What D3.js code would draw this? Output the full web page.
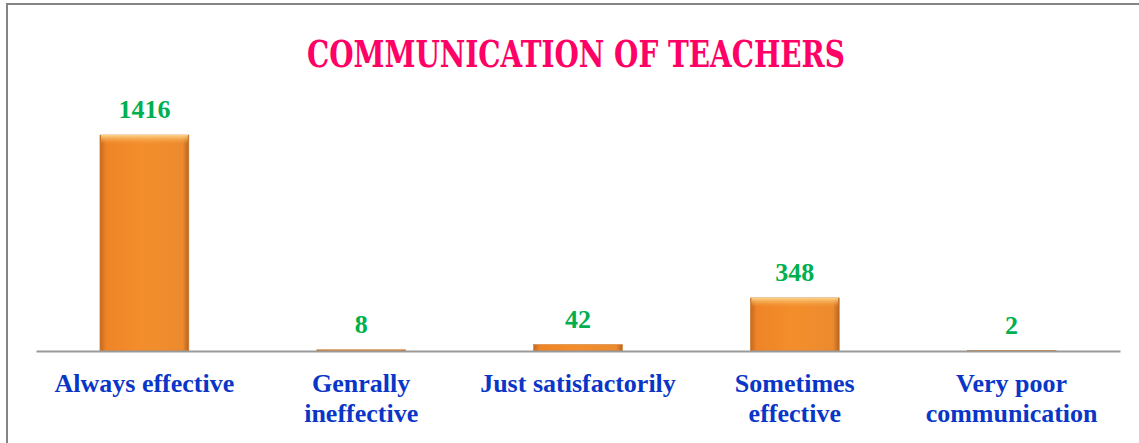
<!DOCTYPE html>
<html>
<head>
<meta charset="utf-8">
<script src="https://cdn.jsdelivr.net/npm/d3@7"></script>
<style>
  body { margin: 0; background: #fff; }
  svg { display: block; }
</style>
</head>
<body>
<div id="chart"></div>
<script>
const chartWidth = 1139;
const chartHeight = 443;

const margin = { top: 135, bottom: 91, left: 36, right: 19 };

// chart data
const categories = ["Always effective", "Genrally ineffective", "Just satisfactorily", "Sometimes effective", "Very poor communication"];
const categoryLines = [["Always effective"], ["Genrally", "ineffective"], ["Just satisfactorily"], ["Sometimes", "effective"], ["Very poor", "communication"]];
const counts = [1416, 8, 42, 348, 2];
const title = "COMMUNICATION OF TEACHERS";

const svg = d3.select("#chart").append("svg")
  .attr("width", chartWidth)
  .attr("height", chartHeight);

// bar shading
const defs = svg.append("defs");
const grad = defs.append("linearGradient").attr("id", "barGrad")
  .attr("x1", "0").attr("x2", "1").attr("y1", "0").attr("y2", "0");
grad.append("stop").attr("offset", "0").attr("stop-color", "#c4681f");
grad.append("stop").attr("offset", "0.07").attr("stop-color", "#ee8426");
grad.append("stop").attr("offset", "0.5").attr("stop-color", "#f48e2c");
grad.append("stop").attr("offset", "0.93").attr("stop-color", "#ec8a2e");
grad.append("stop").attr("offset", "1").attr("stop-color", "#b86320");

const topGrad = defs.append("linearGradient").attr("id", "topGrad")
  .attr("x1", "0").attr("x2", "0").attr("y1", "0").attr("y2", "1");
topGrad.append("stop").attr("offset", "0").attr("stop-color", "#fcd48a").attr("stop-opacity", 1);
topGrad.append("stop").attr("offset", "1").attr("stop-color", "#f7a444").attr("stop-opacity", 0);

// frame (left and top edges)
svg.append("path")
  .attr("d", "M7,443 L7,4 L1139,4")
  .attr("fill", "none")
  .attr("stroke", "#858585")
  .attr("stroke-width", 2);

const x = d3.scaleBand()
  .domain(categories)
  .range([margin.left, chartWidth - margin.right])
  .paddingInner(0.59)
  .paddingOuter(0.295);

const y = d3.scaleLinear()
  .domain([0, d3.max(counts)])
  .range([chartHeight - margin.bottom - 1, margin.top]);

const data = categories.map((c, i) => ({ cat: c, value: counts[i], lines: categoryLines[i] }));

// bars
const bars = svg.selectAll(".bar").data(data).enter().append("g").attr("class", "bar");

bars.append("rect")
  .attr("x", d => x(d.cat))
  .attr("y", d => y(d.value))
  .attr("width", x.bandwidth())
  .attr("height", d => y(0) - y(d.value))
  .attr("fill", "url(#barGrad)")
  .attr("stroke", "#d07a2c")
  .attr("stroke-width", 0.6);

bars.filter(d => y(0) - y(d.value) > 8).append("rect")
  .attr("x", d => x(d.cat) + 1)
  .attr("y", d => y(d.value))
  .attr("width", x.bandwidth() - 2)
  .attr("height", 9)
  .attr("fill", "url(#topGrad)");

// baseline
const xAxis = d3.axisBottom(x).tickSize(0).tickFormat("");
svg.append("g")
  .attr("transform", "translate(0," + y(0) + ")")
  .call(xAxis)
  .call(g => g.select(".domain").attr("stroke", "#9a9a9a").attr("stroke-width", 2));

// value labels
svg.selectAll(".val").data(data).enter().append("text")
  .attr("class", "val")
  .attr("x", d => x(d.cat) + x.bandwidth() / 2)
  .attr("y", d => y(d.value) - 17)
  .attr("text-anchor", "middle")
  .attr("font-family", "'Liberation Serif', 'Times New Roman', serif")
  .attr("font-weight", "bold")
  .attr("font-size", 26)
  .attr("fill", "#00b050")
  .text(d => d.value);

// category labels
const catLabels = svg.selectAll(".cat").data(data).enter().append("text")
  .attr("class", "cat")
  .attr("text-anchor", "middle")
  .attr("font-family", "'Liberation Serif', 'Times New Roman', serif")
  .attr("font-weight", "bold")
  .attr("font-size", 26)
  .attr("fill", "#0a36c8");

catLabels.selectAll("tspan").data(d => d.lines.map(l => ({ l: l, cat: d.cat }))).enter()
  .append("tspan")
  .attr("x", d => x(d.cat) + x.bandwidth() / 2)
  .attr("y", (d, i) => 392 + i * 30)
  .text(d => d.l);

// title
svg.append("text")
  .attr("x", 576)
  .attr("y", 67)
  .attr("text-anchor", "middle")
  .attr("font-family", "'DejaVu Serif', serif")
  .attr("font-weight", "bold")
  .attr("font-size", 37)
  .attr("textLength", 538)
  .attr("lengthAdjust", "spacingAndGlyphs")
  .attr("fill", "#ff0066")
  .text(title);
</script>
</body>
</html>
